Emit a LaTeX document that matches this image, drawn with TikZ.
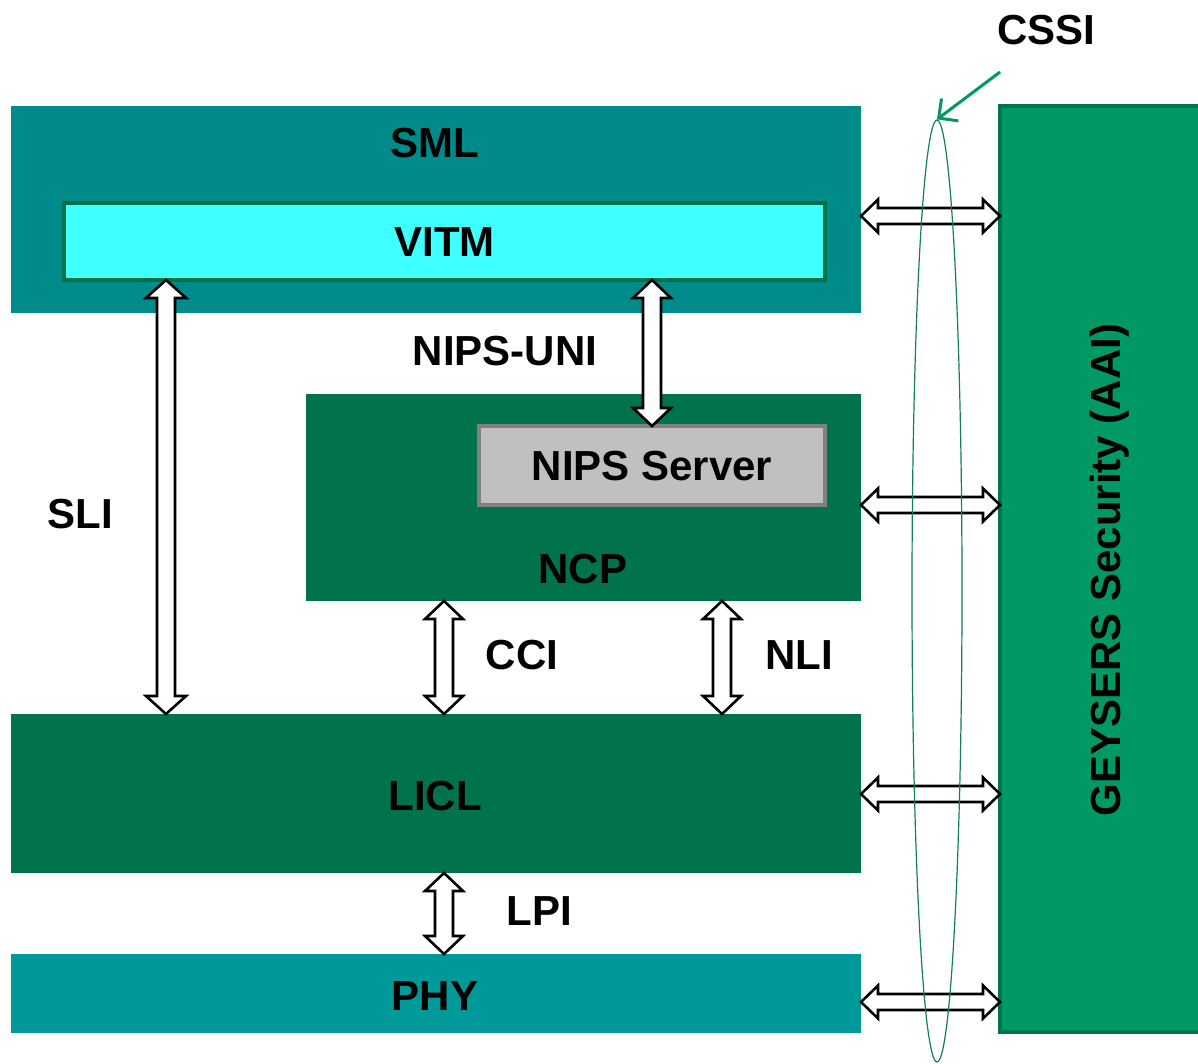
\documentclass[tikz,border=0pt]{standalone}
\usepackage{fontspec}
\setmainfont{Liberation Sans}
\usetikzlibrary{calc,shapes.geometric,arrows.meta}

\definecolor{smlteal}{RGB}{0,139,139}
\definecolor{phyteal}{RGB}{0,153,153}
\definecolor{ctrlgreen}{RGB}{0,114,76}
\definecolor{secgreen}{RGB}{0,153,102}
\definecolor{secedge}{RGB}{0,116,76}
\definecolor{vitmfill}{RGB}{64,255,255}
\definecolor{vitmedge}{RGB}{0,112,70}
\definecolor{srvfill}{RGB}{192,192,192}
\definecolor{srvedge}{RGB}{128,128,128}
\definecolor{ringgreen}{RGB}{20,125,90}

% hollow double-headed block arrow between two points
% #1 start, #2 end, #3 head length, #4 head half width, #5 shaft half width
\newcommand\hollowarrow[5]{%
  \path ($(#1)!#3!(#2)$) coordinate (hA) ($(#2)!#3!(#1)$) coordinate (hB);
  \draw[hollow] (#1)
    -- ($(hA)!#4!90:(#2)$) -- ($(hA)!#5!90:(#2)$)
    -- ($(hB)!#5!-90:(#1)$) -- ($(hB)!#4!-90:(#1)$)
    -- (#2)
    -- ($(hB)!#4!90:(#1)$) -- ($(hB)!#5!90:(#1)$)
    -- ($(hA)!#5!-90:(#2)$) -- ($(hA)!#4!-90:(#2)$)
    -- cycle;}

\begin{document}
\begin{tikzpicture}[x=1pt,y=-1pt,
  box/.style={anchor=north west,inner sep=0pt,outer sep=0pt},
  lbl/.style={inner sep=0pt,text height=30pt,text depth=0pt,
    font=\fontsize{42}{46}\selectfont\bfseries},
  hollow/.style={draw=black,fill=white,line width=2.6pt,line join=miter}]
\useasboundingbox (0,0) rectangle (1198,1064);

% layers
\node[box,fill=smlteal,minimum width=850pt,minimum height=207pt] (sml) at (11,106) {};
\node[box,fill=ctrlgreen,minimum width=555pt,minimum height=207pt] (ncp) at (306,394) {};
\node[box,fill=ctrlgreen,minimum width=850pt,minimum height=159pt] (licl) at (11,714) {};
\node[box,fill=phyteal,minimum width=850pt,minimum height=79pt] (phy) at (11,954) {};
\node[box,fill=vitmfill,draw=vitmedge,line width=4pt,minimum width=761pt,minimum height=77pt] (vitm) at (64,203) {};
\node[box,fill=srvfill,draw=srvedge,line width=4pt,minimum width=346pt,minimum height=79pt] (server) at (479,426) {};
\node[box,fill=secgreen,draw=secedge,line width=4pt,minimum width=230pt,minimum height=926pt] (sec) at (1000,106) {};

% layer titles
\node[lbl] (smlt) at (435,143) {SML};
\node[lbl] (vitmt) at (vitm.center) {VITM};
\node[lbl] (servert) at (server.center) {NIPS Server};
\node[lbl] (ncpt) at (583,568) {NCP};
\node[lbl] (liclt) at (435,795) {LICL};
\node[lbl] (phyt) at (435,995) {PHY};
\node[lbl,rotate=90] (sect) at (1105,570) {GEYSERS Security (AAI)};

% interface labels
\node[lbl] (uni) at (505,350) {NIPS-UNI};
\node[lbl] (sli) at (80,513) {SLI};
\node[lbl] (cci) at (522,654) {CCI};
\node[lbl] (nli) at (799,654) {NLI};
\node[lbl] (lpi) at (539,910) {LPI};
\node[lbl] (cssi) at (1046,30) {CSSI};

% vertical interfaces
\coordinate (sliX) at (166,0);
\coordinate (cciX) at (444,0);
\coordinate (nliX) at (722,0);
\hollowarrow{vitm.south -| sliX}{licl.north -| sliX}{18pt}{20pt}{9pt}
\hollowarrow{vitm.south -| server.north}{server.north}{18pt}{19pt}{9pt}
\hollowarrow{ncp.south -| cciX}{licl.north -| cciX}{18pt}{19pt}{9pt}
\hollowarrow{ncp.south -| nliX}{licl.north -| nliX}{18pt}{19pt}{9pt}
\hollowarrow{licl.south -| cciX}{phy.north -| cciX}{18pt}{19pt}{9pt}

% security interfaces
\coordinate (row1) at (0,216);
\coordinate (row2) at (0,505);
\coordinate (row3) at (0,794);
\coordinate (row4) at (0,1002);
\hollowarrow{sml.east |- row1}{sec.west |- row1}{17pt}{16.5pt}{8pt}
\hollowarrow{ncp.east |- row2}{sec.west |- row2}{17pt}{16.5pt}{8pt}
\hollowarrow{licl.east |- row3}{sec.west |- row3}{17pt}{16.5pt}{8pt}
\hollowarrow{phy.east |- row4}{sec.west |- row4}{17pt}{16.5pt}{8pt}

% CSSI grouping ring
\node[ellipse,draw=ringgreen,line width=1.2pt,inner sep=0pt,
  minimum width=50pt,minimum height=942pt] (ring) at (937,591) {};
\coordinate (cssitail) at (1000,72);
\draw[secgreen,line width=3pt,-{Straight Barb[length=14pt,width=28pt]}]
  (cssitail) -- (ring.north);
\end{tikzpicture}
\end{document}
